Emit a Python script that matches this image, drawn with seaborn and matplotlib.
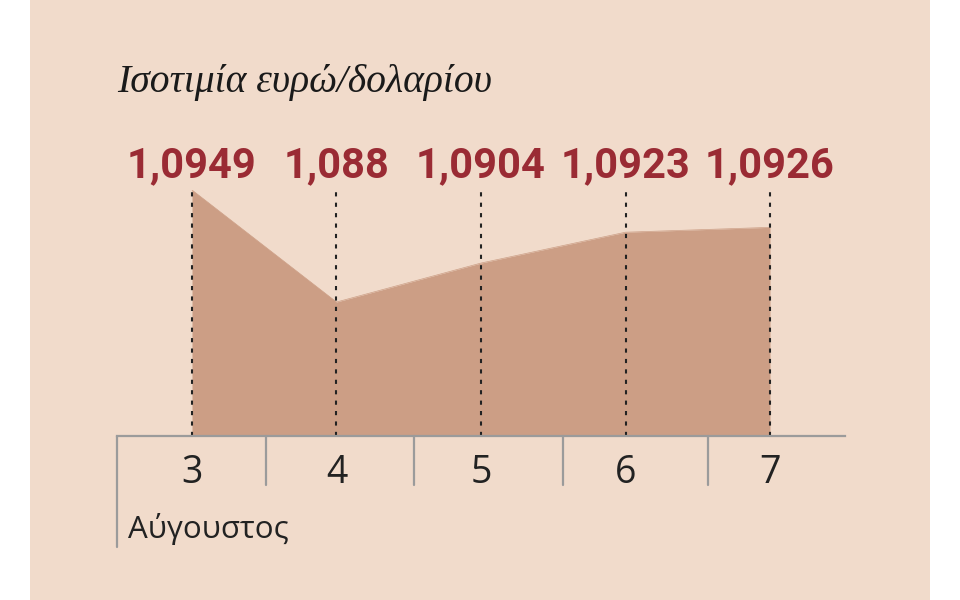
import matplotlib
matplotlib.use("Agg")
import matplotlib.pyplot as plt
import matplotlib.patches as mpatches
import matplotlib.transforms as mtransforms
import seaborn as sns
import pandas as pd

# Data
days = [3, 4, 5, 6, 7]
rates = [1.0949, 1.088, 1.0904, 1.0923, 1.0926]
rate_labels = ["1,0949", "1,088", "1,0904", "1,0923", "1,0926"]
day_labels = ["3", "4", "5", "6", "7"]
title = "Ισοτιμία ευρώ/δολαρίου"
month = "Αύγουστος"

BG = "#f1dbcb"
AREA = "#cc9e85"
RED = "#9a2b34"
GREY = "#9b9b9b"

sns.set_theme(style="white")
plt.rcParams["font.family"] = ["Open Sans", "DejaVu Sans"]

fig = plt.figure(figsize=(9.6, 6), dpi=100, facecolor="white")
fig.patches.append(mpatches.Rectangle((30 / 960, 0), 900 / 960, 1,
                                      transform=fig.transFigure, facecolor=BG,
                                      edgecolor="none", zorder=-10))

ax = fig.add_axes([117 / 960, 164 / 600, 728 / 960, 246 / 600])
ax.set_facecolor("none")
ax.set_zorder(5)

df = pd.DataFrame({"day": days, "rate": rates})
ymin = 1.07975
ax.fill_between(df["day"], df["rate"], ymin, color=AREA, linewidth=0, zorder=1)
sns.lineplot(data=df, x="day", y="rate", ax=ax, color=AREA, linewidth=0.5, zorder=1)

ax.set_xlim(2.481, 7.519)
ax.set_ylim(ymin, 1.0949)

btr = mtransforms.blended_transform_factory(ax.transData, ax.transAxes)

# dotted verticals
for d in days:
    ax.plot([d, d], [0, 1], transform=btr,
            color="#222222", linestyle=(0, (2, 3)), linewidth=1.5, zorder=3, clip_on=False)

# spines
for s in ["top", "right", "left"]:
    ax.spines[s].set_visible(False)
ax.spines["bottom"].set_color(GREY)
ax.spines["bottom"].set_linewidth(1.6)
ax.spines["bottom"].set_zorder(4)

ax.set_yticks([])
ax.set_xticks(days)
ax.set_xticklabels(day_labels, fontsize=27, fontweight="normal", color="#222222")
ax.tick_params(axis="x", length=0, pad=13)
ax.set_xlabel("")
ax.set_ylabel("")

# separators
sep_x = [2.481, 3.512, 4.536, 5.567, 6.571]
for i, sx in enumerate(sep_x):
    bottom = -0.451 if i == 0 else -0.199
    ax.plot([sx, sx], [0, bottom], transform=btr, color=GREY, linewidth=1.6,
            clip_on=False, zorder=4)

# value labels
for d, lab in zip(days, rate_labels):
    ax.text(d, 1.053, lab, transform=btr, ha="center", va="baseline",
            fontsize=30, fontweight="bold", color=RED,
            family=["Roboto", "DejaVu Sans"])

fig.text(117 / 960, 1 - 92 / 600, title, ha="left", va="baseline",
         fontsize=28.5, style="italic", color="#1a1a1a",
         family=["Liberation Serif", "DejaVu Serif"])
fig.text(128 / 960, 1 - 538 / 600, month, ha="left", va="baseline",
         fontsize=22.5, fontweight="normal", color="#222222")

fig.savefig("out.png", dpi=100, facecolor="white")
